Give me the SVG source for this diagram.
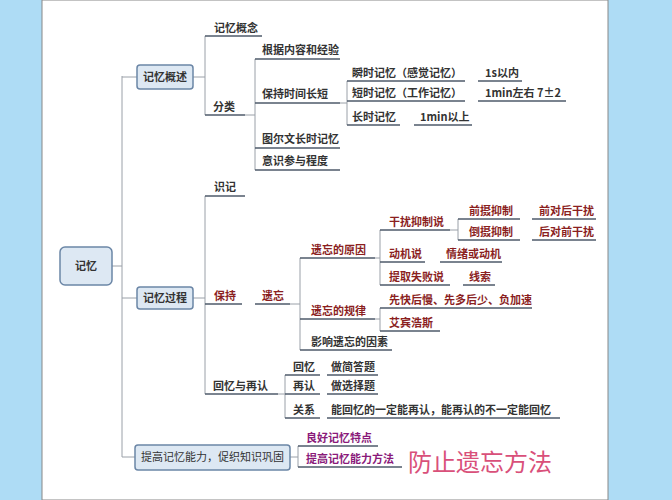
<svg xmlns="http://www.w3.org/2000/svg" width="672" height="500" viewBox="0 0 672 500">
<style>
text{font-family:"Noto Sans CJK SC","Liberation Sans",sans-serif;font-size:11px;font-weight:bold;fill:#333}
.r{fill:#8b1f1f}.p{fill:#8a1a7a}
.box{fill:#dde8f3;stroke:#6b86a6;stroke-width:1.5}
.c path{fill:none;stroke:#9aa0a8;stroke-width:1}
.u{stroke:#4e5a6a;stroke-width:1.5}
</style>
<rect width="672" height="500" fill="#aedcf5"/>
<rect x="42" y="0" width="566" height="500" fill="#fff" stroke="#888" stroke-width="1"/>
<g class="c">
<path d="M112 266H122M122 76V457M122 77H137M122 298H137M122 457H135"/>
<path d="M193 77H205M205 36V115"/>
<path d="M245 115H255M255 59V170"/>
<path d="M340 103H347M347 81V125"/>
<path d="M193 298H205M205 196V394"/>
<path d="M290 304H300M300 258V350"/>
<path d="M375 258H380M380 230V285"/>
<path d="M450 230H458M458 219V240"/>
<path d="M375 319H380M380 308V331"/>
<path d="M278 394H285M285 375V418"/>
<path d="M290 457H298M298 446V467"/>
</g>
<g class="u">
<line x1="205" y1="36" x2="262" y2="36"/><line x1="205" y1="115" x2="245" y2="115"/>
<line x1="255" y1="59" x2="340" y2="59"/><line x1="255" y1="103" x2="340" y2="103"/><line x1="255" y1="148" x2="340" y2="148"/><line x1="255" y1="170" x2="340" y2="170"/>
<line x1="347" y1="81" x2="465" y2="81"/><line x1="478" y1="81" x2="522" y2="81"/>
<line x1="347" y1="101" x2="465" y2="101"/><line x1="478" y1="101" x2="566" y2="101"/>
<line x1="347" y1="125" x2="400" y2="125"/><line x1="414" y1="125" x2="472" y2="125"/>
<line x1="205" y1="196" x2="245" y2="196"/>
<line x1="205" y1="304" x2="242" y2="304"/><line x1="255" y1="304" x2="290" y2="304"/>
<line x1="300" y1="258" x2="375" y2="258"/><line x1="300" y1="319" x2="375" y2="319"/><line x1="300" y1="350" x2="392" y2="350"/>
<line x1="380" y1="230" x2="450" y2="230"/><line x1="380" y1="262" x2="425" y2="262"/><line x1="440" y1="262" x2="502" y2="262"/>
<line x1="380" y1="285" x2="450" y2="285"/><line x1="463" y1="285" x2="495" y2="285"/>
<line x1="458" y1="219" x2="520" y2="219"/><line x1="532" y1="219" x2="596" y2="219"/>
<line x1="458" y1="240" x2="520" y2="240"/><line x1="532" y1="240" x2="596" y2="240"/>
<line x1="380" y1="308" x2="532" y2="308"/><line x1="380" y1="331" x2="440" y2="331"/>
<line x1="205" y1="394" x2="278" y2="394"/>
<line x1="285" y1="375" x2="320" y2="375"/><line x1="327" y1="375" x2="378" y2="375"/>
<line x1="285" y1="394" x2="320" y2="394"/><line x1="327" y1="394" x2="378" y2="394"/>
<line x1="285" y1="418" x2="320" y2="418"/><line x1="327" y1="418" x2="560" y2="418"/>
<line x1="298" y1="446" x2="378" y2="446"/><line x1="298" y1="467" x2="402" y2="467"/>
</g>
<g id="root"><rect class="box" x="60" y="247" width="52" height="38" rx="5" stroke-width="2.5"/><text x="86" y="270" text-anchor="middle">记忆</text></g>
<g id="gs"><rect class="box" x="137" y="65" width="56" height="24" rx="3"/><text x="165" y="81" text-anchor="middle">记忆概述</text></g>
<g id="gc"><rect class="box" x="137" y="287" width="56" height="22" rx="3"/><text x="165" y="302" text-anchor="middle">记忆过程</text></g>
<g id="ti"><rect class="box" x="135" y="445" width="155" height="25" rx="3"/><text x="212.5" y="461" text-anchor="middle" style="font-weight:normal">提高记忆能力，促织知识巩固</text></g>
<g id="labels">
<text x="214" y="32">记忆概念</text><text x="213" y="111">分类</text>
<text x="262" y="54">根据内容和经验</text><text x="262" y="98">保持时间长短</text><text x="262" y="143">图尔文长时记忆</text><text x="262" y="165">意识参与程度</text>
<text x="352" y="77">瞬时记忆（感觉记忆）</text><text x="485" y="77">1s以内</text>
<text x="352" y="97">短时记忆（工作记忆）</text><text x="485" y="97">1min左右  7±2</text>
<text x="352" y="121">长时记忆</text><text x="420" y="121">1min以上</text>
<text x="214" y="191">识记</text>
<text class="r" x="214" y="300">保持</text><text class="r" x="262" y="300">遗忘</text>
<text class="r" x="311" y="254">遗忘的原因</text><text class="r" x="311" y="315">遗忘的规律</text><text x="311" y="346">影响遗忘的因素</text>
<text class="r" x="389" y="226">干扰抑制说</text><text class="r" x="469" y="215">前摄抑制</text><text class="r" x="539" y="215">前对后干扰</text>
<text class="r" x="469" y="236">倒摄抑制</text><text class="r" x="539" y="236">后对前干扰</text>
<text class="r" x="389" y="258">动机说</text><text class="r" x="446" y="258">情绪或动机</text>
<text class="r" x="389" y="281">提取失败说</text><text class="r" x="469" y="281">线索</text>
<text class="r" x="389" y="304">先快后慢、先多后少、负加速</text><text class="r" x="389" y="327">艾宾浩斯</text>
<text x="213" y="390">回忆与再认</text>
<text x="293" y="371">回忆</text><text x="331" y="371">做简答题</text>
<text x="293" y="390">再认</text><text x="331" y="390">做选择题</text>
<text x="293" y="414">关系</text><text x="331" y="414">能回忆的一定能再认，能再认的不一定能回忆</text>
<text class="p" x="306" y="442">良好记忆特点</text><text class="p" x="306" y="463">提高记忆能力方法</text>
<text x="408" y="471" style="font-size:24px;font-weight:normal;fill:#d9507a">防止遗忘方法</text>
</g>
</svg>
